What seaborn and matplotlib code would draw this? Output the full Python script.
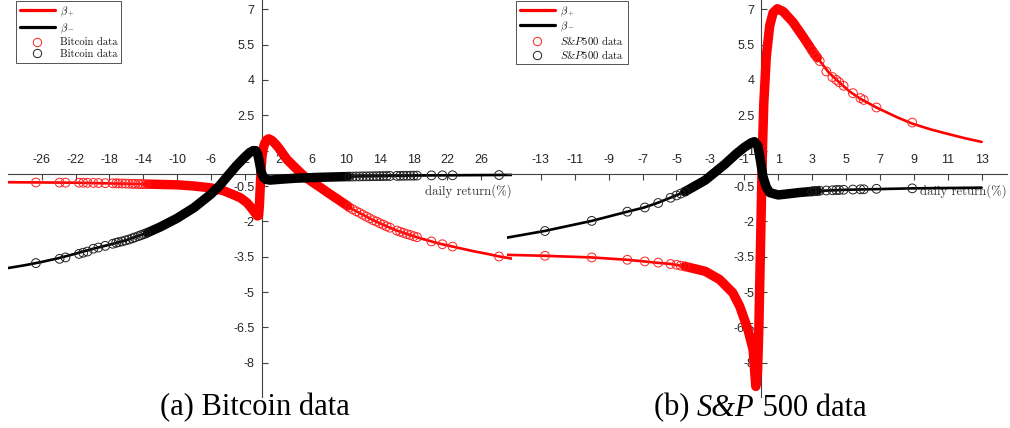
import numpy as np
import pandas as pd
import matplotlib
matplotlib.use('Agg')
import matplotlib.pyplot as plt
import seaborn as sns
from matplotlib.lines import Line2D
from matplotlib.offsetbox import TextArea, HPacker, AnchoredOffsetbox

sns.set_theme(style='white')
plt.rcParams['font.family'] = ['Liberation Sans', 'DejaVu Sans']
plt.rcParams['axes.unicode_minus'] = False
plt.rcParams['mathtext.fontset'] = 'cm'

# ---- Bitcoin panel ----
btc_bp_x = [-30, -26, -22, -18, -13.5, -10, -8, -6, -4.5, -3.4, -2.5, -1.75, -1.2, -0.8, -0.5,
            -0.35, -0.25, -0.15, -0.05, 0.05, 0.2, 0.4, 0.6, 0.85, 1.2, 1.6, 2, 2.5, 3, 4, 5, 6,
            7, 8, 9, 10.2, 11, 12, 13, 14, 15, 16, 17, 18, 19, 20, 21, 22, 23, 24, 25, 26, 27,
            28, 29.6]
btc_bp_y = [-0.34, -0.35, -0.36, -0.39, -0.42, -0.45, -0.5, -0.58, -0.7, -0.86, -1.0, -1.2,
            -1.43, -1.63, -1.77, -1.75, -1.3, -0.5, 0.25, 0.75, 1.1, 1.33, 1.45, 1.5, 1.44, 1.3,
            1.13, 0.88, 0.63, 0.27, -0.07, -0.33, -0.57, -0.82, -1.06, -1.35, -1.53, -1.72,
            -1.91, -2.08, -2.24, -2.39, -2.51, -2.63, -2.74, -2.84, -2.94, -3.02, -3.10, -3.18,
            -3.26, -3.33, -3.40, -3.48, -3.58]
btc_bm_x = [-30, -28, -26, -24, -22, -20, -18, -16, -13.5, -12, -10, -8, -6, -5, -4, -3, -2,
            -1.4, -1.0, -0.7, -0.45, -0.25, -0.05, 0.2, 0.5, 1.0, 2.0, 4.0, 7.0, 10.2, 15, 20,
            25, 29.6]
btc_bm_y = [-3.98, -3.86, -3.72, -3.56, -3.37, -3.17, -2.99, -2.8, -2.48, -2.24, -1.87, -1.42,
            -0.85, -0.5, -0.07, 0.35, 0.72, 0.92, 1.0, 1.0, 0.85, 0.5, 0.1, -0.12, -0.22, -0.25,
            -0.22, -0.17, -0.13, -0.1, -0.07, -0.05, -0.04, -0.03]
btc_x = [-26.7, -23.9, -23.2, -21.6, -21.1, -20.6, -19.9, -19.3, -18.5, -17.6, -17.2, -16.9,
         -16.5, -16.1, -15.7, -15.3, -15.0, -14.6, -14.3, -14.0, -13.7,
         10.4, 10.8, 11.2, 11.6, 12.0, 12.4, 12.8, 13.2, 13.6, 14.0, 14.4, 14.8, 15.2,
         16.0, 16.4, 16.8, 17.2, 17.6, 18.0, 18.4, 20.1, 21.4, 22.6, 28.1]
btc_red = [-0.35, -0.355, -0.357, -0.36, -0.362, -0.365, -0.37, -0.372, -0.38, -0.385, -0.388,
           -0.39, -0.395, -0.398, -0.40, -0.405, -0.41, -0.413, -0.416, -0.42, -0.423,
           -1.41, -1.49, -1.57, -1.64, -1.72, -1.80, -1.87, -1.95, -2.01, -2.08, -2.14, -2.21,
           -2.27, -2.39, -2.44, -2.49, -2.54, -2.58, -2.63, -2.67, -2.85, -2.97, -3.07, -3.49]
btc_black = [-3.77, -3.59, -3.53, -3.38, -3.33, -3.28, -3.16, -3.11, -3.04, -2.95, -2.91, -2.88,
             -2.85, -2.81, -2.77, -2.72, -2.68, -2.63, -2.59, -2.55, -2.51,
             -0.1, -0.1, -0.095, -0.095, -0.09, -0.09, -0.088, -0.085, -0.083, -0.08, -0.078,
             -0.076, -0.074, -0.07, -0.068, -0.066, -0.064, -0.062, -0.06, -0.058, -0.05,
             -0.048, -0.045, -0.035]
btc_dense = (-13.5, 10.2)

# ---- S&P 500 panel ----
sp_bp_x = [-15, -12.8, -10, -7.9, -6.9, -6.1, -5.3, -4.5, -3.3, -2.45, -1.68, -1.27, -0.78,
           -0.48, -0.32, -0.22, -0.14, -0.07, 0.0, 0.07, 0.15, 0.3, 0.5, 0.7, 0.95, 1.3, 1.87,
           2.5, 3.0, 3.3, 4.0, 4.6, 5.2, 5.8, 6.8, 8.0, 8.9, 10.0, 10.9, 12.0, 13.0]
sp_bp_y = [-3.42, -3.46, -3.53, -3.63, -3.70, -3.76, -3.81, -3.91, -4.12, -4.47, -5.03, -5.6,
           -6.6, -7.44, -9.0, -8.4, -6.5, -4.0, -1.5, 1.0, 3.0, 5.0, 6.3, 6.85, 7.02, 6.9, 6.45,
           5.8, 5.25, 4.95, 4.3, 3.9, 3.52, 3.22, 2.83, 2.42, 2.15, 1.9, 1.73, 1.53, 1.37]
sp_bm_x = [-15, -12.8, -10, -7.9, -6.9, -6.1, -5.3, -4.5, -3.3, -2.15, -1.5, -1.0, -0.6, -0.4,
           -0.2, -0.05, 0.1, 0.3, 0.5, 1.0, 1.5, 2.2, 3.3, 5.0, 8.9, 13.0]
sp_bm_y = [-2.69, -2.41, -1.98, -1.59, -1.41, -1.21, -0.98, -0.74, -0.25, 0.42, 0.85, 1.14,
           1.33, 1.38, 1.2, 0.6, -0.1, -0.55, -0.78, -0.88, -0.84, -0.78, -0.71, -0.66, -0.6,
           -0.57]
sp_x = [-12.76, -10.0, -7.9, -6.87, -6.08, -5.35, -5.0, -4.75, -4.5, 3.0, 3.15, 3.3, 3.45,
        3.84, 4.2, 4.43, 4.6, 4.86, 5.41, 5.85, 6.05, 6.8, 8.91]
sp_red = [-3.46, -3.53, -3.63, -3.70, -3.75, -3.81, -3.84, -3.88, -3.91, 5.25, 5.08, 4.95, 4.8,
          4.36, 4.12, 4.0, 3.9, 3.75, 3.44, 3.23, 3.15, 2.83, 2.19]
sp_black = [-2.41, -1.98, -1.59, -1.41, -1.22, -1.0, -0.9, -0.82, -0.74, -0.73, -0.72, -0.71,
            -0.70, -0.69, -0.68, -0.67, -0.67, -0.66, -0.65, -0.64, -0.64, -0.62, -0.6]
sp_dense = (-4.5, 3.3)

yticks = [7, 5.5, 4, 2.5, 1, -0.5, -2, -3.5, -5, -6.5, -8]
btc_xticks = [-26, -22, -18, -14, -10, -6, -2, 2, 6, 10, 14, 18, 22, 26]
sp_xticks = [-13, -11, -9, -7, -5, -3, -1, 1, 3, 5, 7, 9, 11, 13]

W, H = 1010, 428
fig = plt.figure(figsize=(W / 100, H / 100), dpi=100)
fig.patch.set_facecolor('white')


def draw_panel(ax, bp_x, bp_y, bm_x, bm_y, dx, dred, dblack, dense, xticks, xlim):
    bp = pd.DataFrame({'x': bp_x, 'y': bp_y})
    bm = pd.DataFrame({'x': bm_x, 'y': bm_y})
    sns.lineplot(data=bp, x='x', y='y', sort=False, estimator=None, color='#ff0000',
                 lw=1.9, ax=ax, zorder=3)
    sns.lineplot(data=bm, x='x', y='y', sort=False, estimator=None, color='black',
                 lw=1.9, ax=ax, zorder=3)
    # dense data regions: overlapping circles form a thick band
    bpd = bp[(bp.x >= dense[0]) & (bp.x <= dense[1])]
    bmd = bm[(bm.x >= dense[0]) & (bm.x <= dense[1])]
    sns.lineplot(data=bpd, x='x', y='y', sort=False, estimator=None, color='#ff0000',
                 lw=6.8, ax=ax, zorder=3.2)
    sns.scatterplot(x=dx, y=dred, marker='o', s=40, facecolor='none', edgecolor='#ff2020',
                    linewidth=0.7, ax=ax, zorder=3.3)
    sns.lineplot(data=bmd, x='x', y='y', sort=False, estimator=None, color='black',
                 lw=6.8, ax=ax, zorder=3.4)
    sns.scatterplot(x=dx, y=dblack, marker='o', s=40, facecolor='none', edgecolor='#202020',
                    linewidth=0.7, ax=ax, zorder=3.5)

    ax.set_xlim(*xlim)
    ax.set_ylim(-9.45, 7.39)
    ax.patch.set_alpha(0)
    for s in ['right', 'bottom']:
        ax.spines[s].set_visible(False)
    ax.spines['left'].set_position(('data', 0))
    ax.spines['top'].set_position(('data', 0))
    for s in ['left', 'top']:
        ax.spines[s].set_color('#404040')
        ax.spines[s].set_linewidth(0.8)
    ax.xaxis.set_ticks_position('top')
    ax.yaxis.set_ticks_position('left')
    ax.set_xticks(xticks)
    ax.set_xticklabels([str(t) for t in xticks])
    ax.set_yticks(yticks)
    ax.set_yticklabels([('%g' % t) for t in yticks])
    ax.tick_params(axis='x', direction='in', length=4, width=0.8, color='#404040',
                   labelsize=9, labelcolor='#262626', pad=6)
    ax.tick_params(axis='y', direction='in', length=4, width=0.8, color='#404040',
                   labelsize=9, labelcolor='#262626', pad=5)
    ax.set_xlabel('')
    ax.set_ylabel('')
    ax.text(1.0, 0.5176, 'daily return(%)', transform=ax.transAxes, ha='right',
            va='center', fontsize=9.2, fontfamily='cmr10', color='#333333', zorder=2)


ax1 = fig.add_axes([8 / W, 1 - 397 / H, (511.7 - 8) / W, 397 / H])
draw_panel(ax1, btc_bp_x, btc_bp_y, btc_bm_x, btc_bm_y, btc_x, btc_red, btc_black,
           btc_dense, btc_xticks, (-30, 29.6))
ax2 = fig.add_axes([507 / W, 1 - 397 / H, (1007 - 507) / W, 397 / H])
draw_panel(ax2, sp_bp_x, sp_bp_y, sp_bm_x, sp_bm_y, sp_x, sp_red, sp_black,
           sp_dense, sp_xticks, (-15, 14.5))


def add_legend(ax, name, x0, spacing):
    handles = [
        Line2D([], [], color='#ff0000', lw=2.3),
        Line2D([], [], color='black', lw=2.3),
        Line2D([], [], ls='none', marker='o', ms=6, mfc='none', mec='#ff2020', mew=0.7),
        Line2D([], [], ls='none', marker='o', ms=6, mfc='none', mec='#202020', mew=0.7),
    ]
    labels = [r'$\beta_+$', r'$\beta_-$', name, name]
    leg = ax.legend(handles, labels, loc='upper left', bbox_to_anchor=(x0 / W, 1 - 1 / H),
                    bbox_transform=fig.transFigure, borderaxespad=0, frameon=True,
                    fancybox=False, prop={'family': 'cmr10', 'size': 7.7},
                    handlelength=3.3, handletextpad=0.45, labelspacing=spacing,
                    borderpad=0.35)
    leg.get_frame().set_edgecolor('#262626')
    leg.get_frame().set_linewidth(0.7)
    leg.set_zorder(5)
    for t in leg.get_texts():
        t.set_color('#111111')


add_legend(ax1, 'Bitcoin data', 16, 0.22)
add_legend(ax2, r'$S$&$P$500 data', 516, 0.05)

fig.text(255 / W, 1 - 408 / H, '(a) Bitcoin data', ha='center', va='center',
         fontsize=22, fontfamily='Liberation Serif', color='black')

# caption (b) with italic S&P
cap_kw = dict(fontsize=22, fontfamily='Liberation Serif', color='black')
parts = [TextArea('(b) ', textprops=cap_kw),
         TextArea('S&P', textprops=dict(cap_kw, fontstyle='italic')),
         TextArea(' 500 data', textprops=cap_kw)]
pack = HPacker(children=parts, align='baseline', pad=0, sep=0)
anc = AnchoredOffsetbox(loc='center', child=pack, frameon=False, pad=0, borderpad=0,
                        bbox_to_anchor=(760 / W, 1 - 408 / H), bbox_transform=fig.transFigure)
fig.add_artist(anc)

fig.savefig('out.png', dpi=100)
